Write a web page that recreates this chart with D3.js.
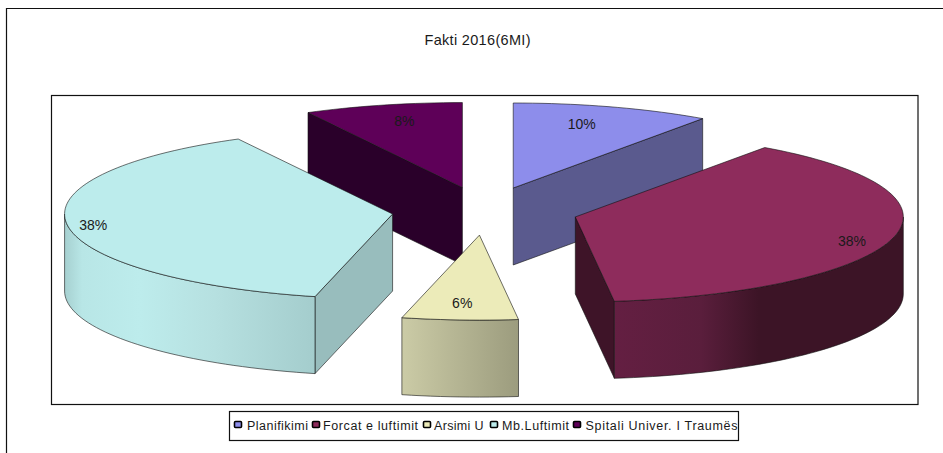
<!DOCTYPE html>
<html>
	<head>
		<meta charset="UTF-8">
		<title>Fakti 2016(6MI)</title>
		<script type="text/javascript" src="https://cdnjs.cloudflare.com/ajax/libs/d3/7.8.5/d3.min.js"></script>
		<style>
			html, body { margin: 0; padding: 0; background: white; overflow: hidden; }
			svg { display: block; }
			text { font-family: "Liberation Sans", Arial, sans-serif; fill: #1a1a1a; }
		</style>
	</head>
	<body>
		<svg id="chart" width="943" height="453"></svg>

		<script type="text/javascript">
			var title = "Fakti 2016(6MI)";
			var categories = ["Planifikimi", "Forcat e luftimit", "Arsimi U", "Mb.Luftimit", "Spitali Univer. I Traumës"];
			// the labels round them
			var shares = [9.8, 38.3, 5.7, 38.4, 7.8];

			// colours per slice: top, radial side, then the stops of the outer wall
			var topColors = ["#8d8deb", "#8e2c5c", "#ecebb9", "#bcecec", "#5e0058"];
			var sideColors = ["#5a5a8e", "#3e1428", "#9c9c7e", "#98bdbd", "#2a002a"];
			var wallStops = [
				[[0, "#5a5a8e"], [1, "#5a5a8e"]],
				[[0, "#641f42"], [0.3, "#5a1e3c"], [0.5, "#3c1426"], [1, "#3c1426"]],
				[[0, "#cbcba6"], [1, "#9c9c7e"]],
				[[0, "#a6d0d0"], [0.07, "#b8e6e6"], [0.3, "#bdecec"], [0.6, "#b6e0e0"], [1, "#a4cdcd"]],
				[[0, "#2a002a"], [1, "#2a002a"]]
			];

			// back slices are painted first
			var paintOrder = [4, 0, 3, 1, 2];

			// label position as a fraction of the radius, along x and y
			var labelFx = [0.69, 0.87, 0.88, 0.92, 0.73];
			var labelFy = [0.79, 1.13, 0.80, 1.03, 0.81];

			var legendSwatchX = [234, 312, 423, 490, 573];
			var legendTextX = [247, 323, 434, 502, 585.5];
			var legendTextW = [61, 95, 49.5, 67, 152];

			var depth = 77;
			var explode = 0.284;
			var halfPi = Math.PI / 2;
			var x = d3.scaleLinear().domain([-1, 1]).range([485 - 328, 485 + 328]);
			var y = d3.scaleLinear().domain([-1, 1]).range([211 + 85, 211 - 85]);
			var percent = d3.format(".0f");

			var svg = d3.select("#chart");
			var defs = svg.append("defs");
			var line = d3.line();

			var slices = d3.pie().sort(null)(shares);

			// Frames
			svg.append("path").attr("d", "M6.5,453V8.5H943").attr("fill", "none").attr("stroke", "#111").attr("stroke-width", 1.2);
			svg.append("rect").attr("x", 51.5).attr("y", 95.5).attr("width", 866.5).attr("height", 309)
				.attr("fill", "white").attr("stroke", "#111").attr("stroke-width", 1.2);
			svg.append("text").text(title).attr("x", 477.5).attr("y", 45)
				.attr("text-anchor", "middle").style("font-size", "14.5px")
				.attr("textLength", 106).attr("lengthAdjust", "spacing");

			var drawSlice = function (index) {
				var d = slices[index];
				var mid = (d.startAngle + d.endAngle) / 2;
				var ex = explode * Math.sin(mid);
				var ey = explode * Math.cos(mid);
				var pt = function (r, a, drop) {
					return [x(ex + r * Math.sin(a)), y(ey + r * Math.cos(a)) + (drop || 0)];
				};
				var arc = function (a0, a1, drop) {
					var steps = Math.max(2, Math.ceil((a1 - a0) / 0.03));
					return d3.range(steps + 1).map(function (i) {
						return pt(1, a0 + (a1 - a0) * i / steps, drop);
					});
				};
				var g = svg.append("g").attr("id", "slice_" + index);
				var edge = function (sel) {
					return sel.attr("stroke", "#111").attr("stroke-opacity", 0.75).attr("stroke-width", 0.8).attr("stroke-linejoin", "round");
				};

				// Radial side faces that look at the viewer
				if (Math.sin(d.startAngle) < -1e-6) {
					edge(g.append("path")).attr("fill", sideColors[index]).attr("d", line([
						pt(0, 0), pt(1, d.startAngle), pt(1, d.startAngle, depth), pt(0, 0, depth)
					]) + "Z");
				}
				if (Math.sin(d.endAngle) > 1e-6) {
					edge(g.append("path")).attr("fill", sideColors[index]).attr("d", line([
						pt(0, 0), pt(1, d.endAngle), pt(1, d.endAngle, depth), pt(0, 0, depth)
					]) + "Z");
				}

				// Outer wall, front half only
				var w0 = Math.max(d.startAngle, halfPi);
				var w1 = Math.min(d.endAngle, 3 * halfPi);
				if (w1 > w0) {
					var grad = defs.append("linearGradient").attr("id", "wall_" + index);
					grad.selectAll("stop").data(wallStops[index]).enter().append("stop")
						.attr("offset", function (s) { return s[0]; })
						.attr("stop-color", function (s) { return s[1]; });
					var pts = arc(w0, w1, 0).concat(arc(w0, w1, depth).reverse());
					edge(g.append("path")).attr("fill", "url(#wall_" + index + ")").attr("d", line(pts) + "Z");
				}

				// Top face
				var top = [pt(0, 0)].concat(arc(d.startAngle, d.endAngle, 0));
				edge(g.append("path")).attr("fill", topColors[index]).attr("d", line(top) + "Z");

				// Label
				g.append("text").text(percent(d.data) + "%")
					.attr("x", x(ex + labelFx[index] * Math.sin(mid)))
					.attr("y", y(ey + labelFy[index] * Math.cos(mid)) + 5)
					.attr("text-anchor", "middle")
					.style("font-size", "14px");
			};

			paintOrder.forEach(drawSlice);

			// Legend
			var legend = svg.append("g").attr("id", "legend");
			legend.append("rect").attr("x", 229.5).attr("y", 411.5).attr("width", 509).attr("height", 29)
				.attr("fill", "white").attr("stroke", "#111").attr("stroke-width", 1.2);
			categories.forEach(function (name, i) {
				legend.append("rect").attr("x", legendSwatchX[i] + 0.5).attr("y", 421.5).attr("width", 7).attr("height", 6)
					.attr("rx", 1).attr("fill", topColors[i]).attr("stroke", "#000").attr("stroke-width", 1.6);
				legend.append("text").text(name).attr("x", legendTextX[i]).attr("y", 429.5)
					.attr("textLength", legendTextW[i]).attr("lengthAdjust", "spacing")
					.style("font-size", "12.5px");
			});
		</script>
	</body>
</html>
